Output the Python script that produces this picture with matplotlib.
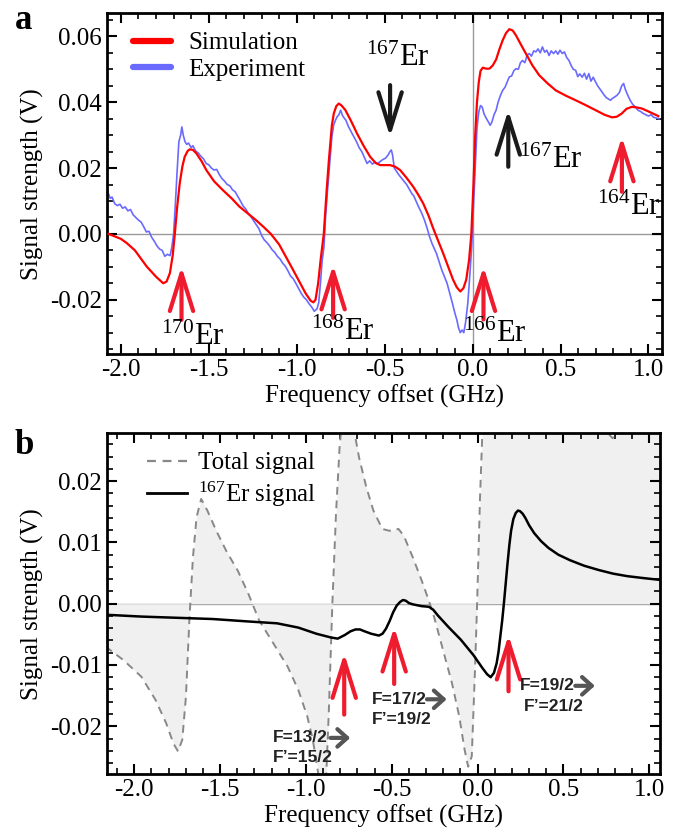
import matplotlib
matplotlib.use('Agg')
import matplotlib.pyplot as plt
from matplotlib.lines import Line2D
from matplotlib.ticker import MultipleLocator, FormatStrFormatter

plt.rcParams['font.family'] = ['Liberation Serif', 'DejaVu Serif']
plt.rcParams['font.size'] = 18
plt.rcParams['mathtext.fontset'] = 'custom'
plt.rcParams['mathtext.rm'] = 'Liberation Serif'
plt.rcParams['mathtext.it'] = 'Liberation Serif:italic'
plt.rcParams['axes.unicode_minus'] = False

# ---- panel a: simulation (red)
sim_freq = [-2.07, -2.0, -1.966, -1.92, -1.853, -1.80, -1.759, -1.74, -1.721, -1.705,
            -1.693, -1.68, -1.665, -1.65, -1.637, -1.62, -1.608, -1.59, -1.571, -1.54,
            -1.514, -1.47, -1.42, -1.37, -1.326, -1.28, -1.232, -1.19, -1.147, -1.10,
            -1.062, -1.02, -0.98, -0.95, -0.921, -0.905, -0.893, -0.878, -0.864, -0.846,
            -0.83, -0.817, -0.80, -0.789, -0.775, -0.761, -0.745, -0.723, -0.69, -0.657,
            -0.62, -0.582, -0.55, -0.525, -0.469, -0.44, -0.412, -0.375, -0.337, -0.31,
            -0.281, -0.25, -0.224, -0.195, -0.168, -0.14, -0.111, -0.09, -0.07, -0.052,
            -0.036, -0.02, -0.007, 0.005, 0.015, 0.025, 0.035, 0.045, 0.058, 0.077,
            0.096, 0.115, 0.134, 0.152, 0.171, 0.19, 0.209, 0.228, 0.247, 0.275,
            0.303, 0.34, 0.379, 0.425, 0.473, 0.53, 0.586, 0.64, 0.699, 0.75,
            0.793, 0.82, 0.849, 0.875, 0.906, 0.935, 0.962, 1.0, 1.056]
sim_signal = [0.0, -0.0015, -0.0028, -0.0050, -0.0099, -0.0130, -0.0150, -0.0145, -0.0119, -0.0065,
              0.0, 0.0080, 0.0154, 0.0205, 0.0234, 0.0252, 0.0257, 0.0255, 0.0245, 0.0220,
              0.0194, 0.0160, 0.0133, 0.0108, 0.0083, 0.0063, 0.0042, 0.0022, 0.0, -0.0032,
              -0.0069, -0.0110, -0.0150, -0.0180, -0.0203, -0.0208, -0.0200, -0.0150, -0.0079, 0.0,
              0.0130, 0.0224, 0.0330, 0.0366, 0.0388, 0.0396, 0.0390, 0.0376, 0.0342, 0.0305,
              0.0268, 0.0234, 0.0215, 0.0209, 0.0209, 0.0204, 0.0194, 0.0170, 0.0143, 0.0120,
              0.0093, 0.0055, 0.0017, -0.0022, -0.0058, -0.0098, -0.0139, -0.0162, -0.0175, -0.0165,
              -0.0139, -0.0080, 0.0, 0.0150, 0.0300, 0.0400, 0.0460, 0.0495, 0.0505, 0.0502,
              0.0502, 0.0512, 0.0530, 0.0560, 0.0588, 0.0610, 0.0622, 0.0618, 0.0603, 0.0575,
              0.0548, 0.0512, 0.0482, 0.0458, 0.0436, 0.0420, 0.0406, 0.0392, 0.0376, 0.0362,
              0.0354, 0.0356, 0.0366, 0.0380, 0.0386, 0.0384, 0.0381, 0.0372, 0.0358]

# ---- panel a: experiment (blue)
exp_freq = [-2.075, -2.06, -2.05, -2.035, -2.02, -2.005, -1.99, -1.975, -1.96, -1.945,
            -1.93, -1.915, -1.90, -1.885, -1.87, -1.855, -1.84, -1.825, -1.81, -1.795,
            -1.78, -1.765, -1.75, -1.735, -1.72, -1.71, -1.70, -1.69, -1.68, -1.67,
            -1.66, -1.653, -1.645, -1.635, -1.625, -1.615, -1.60, -1.59, -1.575, -1.56,
            -1.545, -1.53, -1.515, -1.50, -1.485, -1.47, -1.455, -1.44, -1.425, -1.41,
            -1.395, -1.38, -1.365, -1.35, -1.335, -1.32, -1.305, -1.29, -1.275, -1.26,
            -1.245, -1.23, -1.215, -1.20, -1.185, -1.17, -1.155, -1.14, -1.125, -1.11,
            -1.095, -1.08, -1.065, -1.05, -1.035, -1.02, -1.005, -0.99, -0.975, -0.96,
            -0.945, -0.93, -0.915, -0.90, -0.885, -0.875, -0.865, -0.855, -0.845, -0.835,
            -0.825, -0.81, -0.80, -0.79, -0.78, -0.77, -0.76, -0.75, -0.74, -0.73,
            -0.72, -0.705, -0.69, -0.675, -0.66, -0.645, -0.63, -0.615, -0.60, -0.585,
            -0.57, -0.555, -0.54, -0.525, -0.51, -0.495, -0.48, -0.47, -0.462, -0.455,
            -0.445, -0.435, -0.42, -0.405, -0.39, -0.375, -0.36, -0.345, -0.335, -0.32,
            -0.305, -0.29, -0.275, -0.26, -0.245, -0.23, -0.215, -0.205, -0.19, -0.175,
            -0.16, -0.145, -0.13, -0.115, -0.10, -0.09, -0.08, -0.07, -0.06, -0.05,
            -0.04, -0.027, -0.015, -0.005, 0.005, 0.015, 0.025, 0.035, 0.045, 0.055,
            0.065, 0.077, 0.09, 0.10, 0.11, 0.122, 0.134, 0.145, 0.158, 0.171,
            0.185, 0.197, 0.209, 0.222, 0.235, 0.247, 0.26, 0.272, 0.284, 0.297,
            0.31, 0.322, 0.335, 0.348, 0.36, 0.372, 0.385, 0.397, 0.41, 0.422,
            0.435, 0.447, 0.46, 0.473, 0.485, 0.497, 0.51, 0.522, 0.535, 0.548,
            0.56, 0.573, 0.586, 0.598, 0.61, 0.623, 0.636, 0.648, 0.661, 0.673,
            0.686, 0.699, 0.711, 0.724, 0.736, 0.748, 0.76, 0.772, 0.784, 0.796,
            0.808, 0.821, 0.835, 0.848, 0.859, 0.868, 0.877, 0.887, 0.898, 0.91,
            0.925, 0.94, 0.955, 0.97, 0.985, 1.0, 1.015, 1.03, 1.045, 1.06]
exp_signal = [0.0128, 0.0108, 0.0112, 0.0092, 0.0086, 0.0090, 0.0078, 0.0082, 0.0070, 0.0074,
              0.0058, 0.0050, 0.0042, 0.0036, 0.0022, 0.0006, 0.0008, -0.0010, -0.0022, -0.0036,
              -0.0046, -0.0050, -0.0068, -0.0062, -0.0066, -0.0040, 0.0000, 0.0090, 0.0190, 0.0280,
              0.0300, 0.0325, 0.0300, 0.0280, 0.0272, 0.0276, 0.0262, 0.0268, 0.0252, 0.0246,
              0.0236, 0.0228, 0.0214, 0.0210, 0.0200, 0.0194, 0.0196, 0.0180, 0.0168, 0.0160,
              0.0150, 0.0146, 0.0134, 0.0128, 0.0114, 0.0100, 0.0085, 0.0076, 0.0062, 0.0052,
              0.0040, 0.0028, 0.0016, -0.0004, -0.0018, -0.0026, -0.0036, -0.0048, -0.0056, -0.0068,
              -0.0076, -0.0089, -0.0098, -0.0112, -0.0128, -0.0136, -0.0150, -0.0165, -0.0180, -0.0192,
              -0.0200, -0.0212, -0.0222, -0.0235, -0.0228, -0.0210, -0.0150, -0.0080, -0.0040, 0.0060,
              0.0130, 0.0230, 0.0295, 0.0330, 0.0345, 0.0356, 0.0362, 0.0376, 0.0360, 0.0352,
              0.0345, 0.0325, 0.0310, 0.0295, 0.0280, 0.0262, 0.0250, 0.0232, 0.0214, 0.0222,
              0.0212, 0.0218, 0.0214, 0.0220, 0.0226, 0.0230, 0.0240, 0.0250, 0.0255, 0.0240,
              0.0200, 0.0192, 0.0180, 0.0170, 0.0160, 0.0150, 0.0136, 0.0122, 0.0116, 0.0098,
              0.0080, 0.0064, 0.0044, 0.0020, -0.0008, -0.0030, -0.0048, -0.0060, -0.0085, -0.0110,
              -0.0130, -0.0150, -0.0180, -0.0210, -0.0242, -0.0260, -0.0285, -0.0300, -0.0292, -0.0300,
              -0.0270, -0.0210, -0.0120, -0.0040, 0.0080, 0.0200, 0.0320, 0.0370, 0.0390, 0.0385,
              0.0365, 0.0352, 0.0340, 0.0330, 0.0340, 0.0362, 0.0376, 0.0400, 0.0420, 0.0436,
              0.0446, 0.0462, 0.0477, 0.0480, 0.0496, 0.0502, 0.0500, 0.0520, 0.0527, 0.0520,
              0.0542, 0.0548, 0.0540, 0.0556, 0.0553, 0.0562, 0.0550, 0.0568, 0.0552, 0.0558,
              0.0542, 0.0556, 0.0548, 0.0556, 0.0546, 0.0558, 0.0548, 0.0553, 0.0536, 0.0527,
              0.0512, 0.0500, 0.0497, 0.0478, 0.0486, 0.0476, 0.0488, 0.0470, 0.0487, 0.0464,
              0.0476, 0.0462, 0.0450, 0.0440, 0.0431, 0.0422, 0.0414, 0.0410, 0.0406, 0.0412,
              0.0416, 0.0421, 0.0430, 0.0450, 0.0457, 0.0440, 0.0428, 0.0416, 0.0404, 0.0394,
              0.0386, 0.0376, 0.0372, 0.0366, 0.0362, 0.0358, 0.0362, 0.0354, 0.0352, 0.0350]

# isotope markers in panel a
iso_freq = [-1.655, -0.793, 0.062, 0.849, -0.469, 0.203]
iso_tail = [-0.0261, -0.0255, -0.0260, 0.0128, 0.0452, 0.0204]
iso_head = [-0.0099, -0.0094, -0.0099, 0.0295, 0.0295, 0.0376]
iso_mass = ['170', '168', '166', '164', '167', '167']
iso_lab_x = [-1.590, -0.737, 0.124, 0.887, -0.427, 0.444]
iso_lab_y = [-0.0313, -0.0300, -0.0306, 0.0082, 0.0533, 0.0224]
iso_color = ['#ee1c2e', '#ee1c2e', '#ee1c2e', '#ee1c2e', '#1a1a1a', '#1a1a1a']

# ---- panel b: total signal (dashed) and 167Er signal (solid)
tot_freq = [-2.167, -2.063, -1.959, -1.876, -1.814, -1.772, -1.745, -1.720, -1.699, -1.678,
            -1.658, -1.637, -1.610, -1.574, -1.522, -1.460, -1.397, -1.335, -1.273, -1.189,
            -1.106, -1.044, -0.992, -0.960, -0.929, -0.905, -0.881, -0.867, -0.846, -0.825,
            -0.804, -0.794, -0.760, -0.721, -0.690, -0.648, -0.607, -0.555, -0.513, -0.461,
            -0.430, -0.378, -0.326, -0.284, -0.253, -0.201, -0.149, -0.107, -0.076, -0.055,
            -0.034, -0.014, -0.003, 0.014, 0.028, 0.05, 0.20, 0.50, 0.70, 0.748,
            0.786, 0.826, 0.90, 1.0, 1.06]
tot_signal = [-0.0070, -0.0092, -0.0119, -0.0157, -0.0195, -0.0228, -0.0241, -0.0222, -0.0152, -0.0022,
              0.0076, 0.0141, 0.0171, 0.0152, 0.0119, 0.0084, 0.0054, 0.0016, -0.0027, -0.0065,
              -0.0103, -0.0141, -0.0184, -0.0222, -0.0276, -0.0300, -0.0276, -0.0179, 0.0, 0.0146,
              0.0255, 0.0285, 0.0310, 0.0285, 0.0238, 0.0190, 0.0152, 0.0122, 0.0119, 0.0122,
              0.0111, 0.0076, 0.0038, 0.0005, -0.0022, -0.0076, -0.0130, -0.0184, -0.0238, -0.0266,
              -0.0249, -0.0098, 0.0, 0.0173, 0.0282, 0.0450, 0.0600, 0.0450, 0.0300, 0.0282,
              0.0270, 0.0282, 0.0310, 0.0300, 0.0290]

er_freq = [-2.167, -1.959, -1.751, -1.543, -1.335, -1.168, -1.044, -0.939, -0.856, -0.815,
           -0.773, -0.740, -0.711, -0.685, -0.659, -0.62, -0.575, -0.554, -0.534, -0.512, -0.492,
           -0.471, -0.451, -0.435, -0.419, -0.40, -0.378, -0.326, -0.284, -0.258, -0.232, -0.170,
           -0.097, -0.024, 0.028, 0.055, 0.076, 0.095, 0.111, 0.122, 0.132, 0.143, 0.153,
           0.164, 0.174, 0.185, 0.195, 0.208, 0.222, 0.235, 0.247, 0.262, 0.278, 0.30,
           0.330, 0.37, 0.413, 0.47, 0.538, 0.62, 0.705, 0.79, 0.871, 0.96, 1.058]
er_signal = [-0.0018, -0.0021, -0.0023, -0.0025, -0.0029, -0.0032, -0.0039, -0.0049, -0.0055, -0.0057,
             -0.0051, -0.0045, -0.0042, -0.0042, -0.0045, -0.0049, -0.0052, -0.0049, -0.0041, -0.0028, -0.0014,
             -0.0003, 0.0003, 0.0006, 0.0005, 0.0001, -0.0001, -0.0004, -0.0005, -0.0010, -0.0019, -0.0038,
             -0.0059, -0.0084, -0.0105, -0.0115, -0.0120, -0.0113, -0.0097, -0.0078, -0.0054, -0.0028, 0.0,
             0.0034, 0.0065, 0.0096, 0.0119, 0.0138, 0.0148, 0.0152, 0.0151, 0.0147, 0.0140, 0.0128,
             0.0115, 0.0102, 0.0091, 0.0080, 0.0071, 0.0062, 0.0055, 0.0049, 0.0045, 0.0042, 0.0039]

# hyperfine transitions in panel b
hf_freq = [-0.777, -0.486, 0.180]
hf_tail = [-0.0181, -0.0131, -0.0143]
hf_head = [-0.0081, -0.0038, -0.0051]
hf_line1 = ['F=13/2', 'F=17/2', 'F=19/2']
hf_line2 = ['F\u2019=15/2', 'F\u2019=19/2', 'F\u2019=21/2']
hf_x1 = [-1.195, -0.617, 0.247]
hf_x2 = [-1.195, -0.617, 0.272]
hf_y1 = [-0.0219, -0.0156, -0.0134]
hf_y2 = [-0.0251, -0.0189, -0.0167]
hf_arr_start = [-0.856, -0.295, 0.569]
hf_arr_end = [-0.742, -0.180, 0.683]

RED = '#ee1c2e'
ARROW = '->,head_length=1.35,head_width=0.42'

fig = plt.figure(figsize=(6.8, 8.35), dpi=100)
ax1 = fig.add_axes([0.157, 0.576, 0.816, 0.408])
ax2 = fig.add_axes([0.157, 0.073, 0.813, 0.408])

for ax in (ax1, ax2):
    for s in ax.spines.values():
        s.set_linewidth(2)
    ax.tick_params(which='both', direction='in', top=True, right=True, labelsize=18)
    ax.tick_params(which='major', length=7, width=1.5)
    ax.tick_params(which='minor', length=4, width=1.2)
    ax.xaxis.set_major_locator(MultipleLocator(0.5))
    ax.xaxis.set_minor_locator(MultipleLocator(0.1))
    ax.xaxis.set_major_formatter(FormatStrFormatter('%.1f'))
    ax.yaxis.set_major_formatter(FormatStrFormatter('%.2f'))
    ax.axhline(0, color='#999999', lw=1, zorder=0)
    ax.set_xlabel('Frequency offset (GHz)', fontsize=18, labelpad=3)
    ax.set_ylabel('Signal strength (V)', fontsize=18, labelpad=4)

# panel a
ax1.axvline(0, color='#999999', lw=1, zorder=0)
ax1.plot(exp_freq, exp_signal, color='#6a6aff', lw=1.2, zorder=2)
ax1.plot(sim_freq, sim_signal, color='#ff0000', lw=1.6, zorder=3)
ax1.set_xlim(-2.08, 1.075)
ax1.set_ylim(-0.0365, 0.067)
ax1.yaxis.set_major_locator(MultipleLocator(0.02))
ax1.yaxis.set_minor_locator(MultipleLocator(0.005))

for f, t, h, m, lx, ly, c in zip(iso_freq, iso_tail, iso_head, iso_mass, iso_lab_x, iso_lab_y, iso_color):
    ax1.annotate('', xy=(f, h), xytext=(f, t),
                 arrowprops=dict(arrowstyle=ARROW, lw=3, color=c, mutation_scale=20,
                                 shrinkA=0, shrinkB=0))
    ax1.text(lx, ly, '$^{' + m + '}$Er', fontsize=22, ha='center', va='center')

h1 = [Line2D([], [], color='#ff0000', lw=4.5, solid_capstyle='round'),
      Line2D([], [], color='#6a6aff', lw=4.5, solid_capstyle='round')]
ax1.legend(h1, ['Simulation', 'Experiment'], loc='upper left', bbox_to_anchor=(0.03, 0.975),
           frameon=False, fontsize=18, handlelength=1.5, handletextpad=0.7,
           labelspacing=0.15, borderaxespad=0)

# panel b
ax2.fill_between(tot_freq, tot_signal, 0, color='#f0f0f0', lw=0, zorder=0)
ax2.plot(tot_freq, tot_signal, color='#888888', lw=1.4, ls=(0, (4, 3)), zorder=2)
ax2.plot(er_freq, er_signal, color='black', lw=1.8, zorder=3)
ax2.set_xlim(-2.16, 1.06)
ax2.set_ylim(-0.0278, 0.0278)
ax2.yaxis.set_major_locator(MultipleLocator(0.01))
ax2.yaxis.set_minor_locator(MultipleLocator(0.002))

for f, t, h in zip(hf_freq, hf_tail, hf_head):
    ax2.annotate('', xy=(f, h), xytext=(f, t),
                 arrowprops=dict(arrowstyle=ARROW, lw=3, color=RED, mutation_scale=20,
                                 shrinkA=0, shrinkB=0))
for a, b, x1, x2, y1, y2, s0, s1 in zip(hf_line1, hf_line2, hf_x1, hf_x2, hf_y1, hf_y2,
                                         hf_arr_start, hf_arr_end):
    ax2.text(x1, y1, a, family='Liberation Sans', fontweight='bold', fontsize=12.5,
             color='#222222', ha='left', va='center')
    ax2.text(x2, y2, b, family='Liberation Sans', fontweight='bold', fontsize=12.5,
             color='#222222', ha='left', va='center')
    ax2.annotate('', xy=(s1, y1), xytext=(s0, y1),
                 arrowprops=dict(arrowstyle='->,head_length=0.5,head_width=0.45',
                                 lw=3, color='#555555', mutation_scale=14, shrinkA=0, shrinkB=0))

h2 = [Line2D([], [], color='#888888', lw=1.6, ls=(0, (4, 3))),
      Line2D([], [], color='black', lw=2)]
ax2.legend(h2, ['Total signal', '$^{167}$Er signal'], loc='upper left', bbox_to_anchor=(0.055, 0.975),
           frameon=False, fontsize=18, handlelength=1.6, handletextpad=0.45,
           labelspacing=0.2, borderaxespad=0)

fig.text(0.035, 0.975, 'a', fontsize=25, fontweight='bold', ha='center', va='center')
fig.text(0.035, 0.467, 'b', fontsize=25, fontweight='bold', ha='center', va='center')

fig.savefig('out.png', dpi=100)
